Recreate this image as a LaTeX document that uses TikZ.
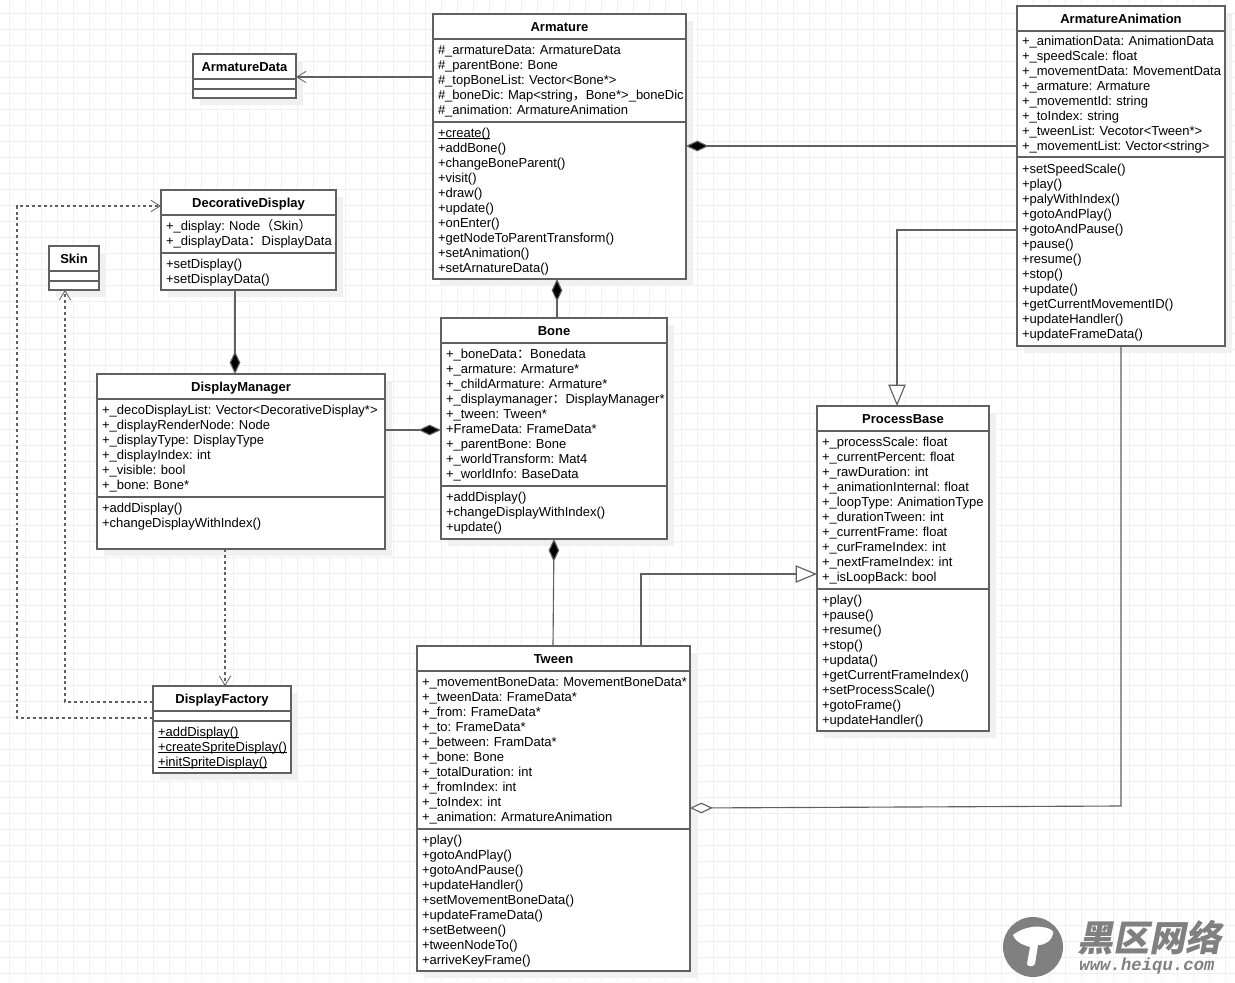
\documentclass[tikz,border=0pt]{standalone}
\usepackage{fontspec}
\setmainfont{Liberation Sans}
\newfontfamily\cjk{Noto Sans CJK SC}
\newfontfamily\wmcjk[FakeSlant=0.2]{Noto Sans CJK SC}
\newfontfamily\wmlatin[FakeSlant=0.2]{Liberation Mono}
\usetikzlibrary{
  arrows.meta,
  positioning,
  shadows
}
\definecolor{umlline}{HTML}{606060}
\definecolor{umlgrid}{HTML}{F0F0F0}
\definecolor{umlmark}{HTML}{808080}
\newsavebox{\umlbin}
\newcommand{\umlstatic}[1]{\sbox{\umlbin}{#1}\leavevmode\rlap{\rule[-1.1pt]{\wd\umlbin}{0.5pt}}\usebox{\umlbin}}

\begin{document}
\frenchspacing
\begin{tikzpicture}[
      x=0.75pt,y=-0.75pt,
      umlbox/.style={
         rectangle,
         draw=umlline,
         line width=0.85pt,
         fill=white,
         inner xsep=3.75pt,
         inner ysep=0pt,
         outer sep=0pt,
         drop shadow={shadow xshift=5pt,shadow yshift=-5pt,fill=black!6,opacity=1},
      },
      classtitle/.style={
         umlbox,
         anchor=north west,
         minimum width=#1*0.75pt,
         minimum height=18.75pt,
         text height=9pt,
         text depth=2pt,
         font=\fontsize{9.75}{11.25}\selectfont\bfseries,
      },
      classgap/.style 2 args={
         umlbox,
         minimum width=#1*0.75pt,
         minimum height=#2*0.75pt,
      },
      classpart/.style 2 args={
         umlbox,
         text width=#1*0.75pt-7.5pt,
         minimum height=#2*0.75pt,
         align=left,
         execute at begin node={\leavevmode\rule{0pt}{8pt}},
         execute at end node={\rule[-2.75pt]{0pt}{2.75pt}},
         font=\fontsize{9.75}{11.25}\selectfont,
      },
      classops/.style 2 args={
         classpart={#1}{#2},
         execute at begin node={\rule{0pt}{9.35pt}},
      },
      connector/.style={draw=umlline,line width=0.85pt},
      gridline/.style={draw=umlgrid,line width=0.6pt},
      composition/.style={connector,arrows={Diamond[length=17pt,width=8pt,fill=black]-}},
      aggregation/.style={connector,arrows={Diamond[length=17pt,width=8pt,fill=white]-}},
      inherit/.style={connector,arrows={-Triangle[length=16pt,width=13pt,fill=white]}},
      assoc/.style={connector,arrows={-Straight Barb[length=7pt,width=8.5pt,line width=0.6pt]}},
      depend/.style={assoc,dash pattern=on 2.2pt off 2.2pt},
   ]
   \useasboundingbox (0,0) rectangle (1235,982);
   \foreach \x in {9,25,...,1233} \draw[gridline] (\x,0) -- (\x,982);
   \foreach \y in {13,29,...,981} \draw[gridline] (0,\y) -- (1235,\y);

   \node (armature) [classtitle=253] at (433,14) {Armature};
   \node (armature attrs) [classpart={253}{83},below=0pt of armature] {%
      \#\_armatureData: ArmatureData\\
      \#\_parentBone: Bone\\
      \#\_topBoneList: Vector<Bone*>\\
      \mbox{\#\_boneDic: Map<string{\cjk，}Bone*>\_boneDic}\\
      \#\_animation: ArmatureAnimation};
   \node (armature ops) [classops={253}{157},below=0pt of armature attrs] {%
      \umlstatic{+create()}\\
      +addBone()\\
      +changeBoneParent()\\
      +visit()\\
      +draw()\\
      +update()\\
      +onEnter()\\
      +getNodeToParentTransform()\\
      +setAnimation()\\
      +setArnatureData()};

   \node (armaturedata) [classtitle=103] at (193,54) {ArmatureData};
   \node (armaturedata attrs) [classgap={103}{10},below=0pt of armaturedata] {};
   \node (armaturedata ops) [classgap={103}{9},below=0pt of armaturedata attrs] {};

   \node (animation) [classtitle=208] at (1017,6) {ArmatureAnimation};
   \node (animation attrs) [classpart={208}{126},below=0pt of animation] {%
      +\_animationData: AnimationData\\
      +\_speedScale: float\\
      \mbox{+\_movementData: MovementData}\\
      +\_armature: Armature\\
      +\_movementId: string\\
      +\_toIndex: string\\
      +\_tweenList: Vecotor<Tween*>\\
      +\_movementList: Vector<string>};
   \node (animation ops) [classops={208}{189},below=0pt of animation attrs] {%
      +setSpeedScale()\\
      +play()\\
      +palyWithIndex()\\
      +gotoAndPlay()\\
      +gotoAndPause()\\
      +pause()\\
      +resume()\\
      +stop()\\
      +update()\\
      +getCurrentMovementID()\\
      +updateHandler()\\
      +updateFrameData()};

   \node (decorative) [classtitle=175] at (161,190) {DecorativeDisplay};
   \node (decorative attrs) [classpart={175}{38},below=0pt of decorative] {%
      +\_display: Node{\cjk（}Skin{\cjk）}\\
      \mbox{+\_displayData{\cjk：}DisplayData}};
   \node (decorative ops) [classops={175}{37},below=0pt of decorative attrs] {%
      +setDisplay()\\
      +setDisplayData()};

   \node (skin) [classtitle=50] at (49,246) {Skin};
   \node (skin attrs) [classgap={50}{10},below=0pt of skin] {};
   \node (skin ops) [classgap={50}{9},below=0pt of skin attrs] {};

   \node (manager) [classtitle=288] at (97,374) {DisplayManager};
   \node (manager attrs) [classpart={288}{98},below=0pt of manager] {%
      \mbox{+\_decoDisplayList: Vector<DecorativeDisplay*>}\\
      +\_displayRenderNode: Node\\
      +\_displayType: DisplayType\\
      +\_displayIndex: int\\
      +\_visible: bool\\
      +\_bone: Bone*};
   \node (manager ops) [classops={288}{52},below=0pt of manager attrs] {%
      +addDisplay()\\
      +changeDisplayWithIndex()\\
      \mbox{}};

   \node (bone) [classtitle=226] at (441,318) {Bone};
   \node (bone attrs) [classpart={226}{143},below=0pt of bone] {%
      +\_boneData{\cjk：}Bonedata\\
      +\_armature: Armature*\\
      +\_childArmature: Armature*\\
      \mbox{+\_displaymanager{\cjk：}DisplayManager*}\\
      +\_tween: Tween*\\
      +FrameData: FrameData*\\
      +\_parentBone: Bone\\
      +\_worldTransform: Mat4\\
      +\_worldInfo: BaseData};
   \node (bone ops) [classpart={226}{53},below=0pt of bone attrs] {%
      +addDisplay()\\
      +changeDisplayWithIndex()\\
      +update()};

   \node (process) [classtitle=172] at (817,406) {ProcessBase};
   \node (process attrs) [classpart={172}{158},below=0pt of process] {%
      +\_processScale: float\\
      +\_currentPercent: float\\
      +\_rawDuration: int\\
      +\_animationInternal: float\\
      \mbox{+\_loopType: AnimationType}\\
      +\_durationTween: int\\
      +\_currentFrame: float\\
      +\_curFrameIndex: int\\
      +\_nextFrameIndex: int\\
      +\_isLoopBack: bool};
   \node (process ops) [classops={172}{142},below=0pt of process attrs] {%
      +play()\\
      +pause()\\
      +resume()\\
      +stop()\\
      +updata()\\
      +getCurrentFrameIndex()\\
      +setProcessScale()\\
      +gotoFrame()\\
      +updateHandler()};

   \node (tween) [classtitle=273] at (417,646) {Tween};
   \node (tween attrs) [classpart={273}{158},below=0pt of tween] {%
      \mbox{+\_movementBoneData: MovementBoneData*}\\
      +\_tweenData: FrameData*\\
      +\_from: FrameData*\\
      +\_to: FrameData*\\
      +\_between: FramData*\\
      +\_bone: Bone\\
      +\_totalDuration: int\\
      +\_fromIndex: int\\
      +\_toIndex: int\\
      +\_animation: ArmatureAnimation};
   \node (tween ops) [classops={273}{142},below=0pt of tween attrs] {%
      +play()\\
      +gotoAndPlay()\\
      +gotoAndPause()\\
      +updateHandler()\\
      +setMovementBoneData()\\
      +updateFrameData()\\
      +setBetween()\\
      +tweenNodeTo()\\
      +arriveKeyFrame()};

   \node (factory) [classtitle=138] at (153,686) {DisplayFactory};
   \node (factory attrs) [classgap={138}{10},below=0pt of factory] {};
   \node (factory ops) [classops={138}{52},below=0pt of factory attrs] {%
      \umlstatic{+addDisplay()}\\
      \umlstatic{+createSpriteDisplay()}\\
      \umlstatic{+initSpriteDisplay()}};

   % connectors
   \draw[assoc] (armature attrs.west |- 0,77) -- (armaturedata.east |- 0,77);
   \draw[composition] (armature ops.east |- 0,146) -- (animation attrs.west |- 0,146);
   \draw[composition] (armature ops.south -| 557,0) -- (bone.north -| 557,0);
   \draw[composition] (manager.north -| 235,0) -- (decorative ops.south -| 235,0);
   \draw[composition] (bone attrs.west |- 0,430) -- (manager attrs.east |- 0,430);
   \draw[composition] (bone ops.south -| 554,0) -- (tween.north -| 553,0);
   \draw[inherit] (animation ops.west |- 0,230) -| (process.north -| 897,0);
   \draw[inherit] (tween.north -| 641,0) |- (process attrs.west |- 0,574);
   \draw[aggregation] (tween attrs.east |- 0,808) -- (1121,806) -- (animation ops.south -| 1121,0);
   \draw[depend] (manager ops.south -| 225,0) -- (factory.north -| 225,0);
   \draw[depend] (factory.west |- 0,702) -| (skin ops.south -| 65,0);
   \draw[depend] (factory.west |- 0,718) -- (17,718) |- (decorative.west |- 0,206);

   % watermark
   \fill[umlmark] (1033,947) circle (30);
   \fill[white] (1013,935) .. controls (1020,929) and (1034,925) .. (1042,927)
      .. controls (1050,928) and (1055,931) .. (1053,934)
      .. controls (1052,940) and (1046,945) .. (1038,945)
      -- (1035,964) .. controls (1033,967) and (1028,967) .. (1027,964)
      -- (1030,947) .. controls (1024,945) and (1016,943) .. (1013,935) -- cycle;
   \node (wm title) [text=umlmark,font=\fontsize{27}{27}\wmcjk\bfseries,inner sep=0pt] at (1149,938) {黑区网络};
   \node (wm url) [text=umlmark,font=\fontsize{13}{13}\wmlatin\bfseries,inner sep=0pt] at (1146,966) {www.heiqu.com};
\end{tikzpicture}
\end{document}
